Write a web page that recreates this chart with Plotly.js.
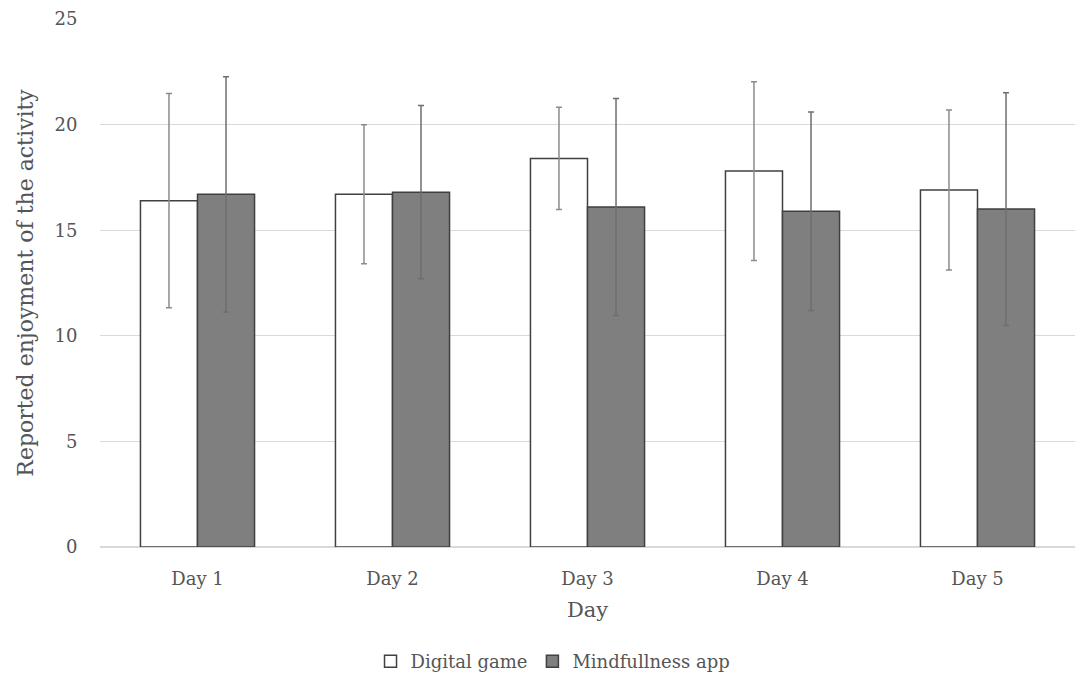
<!DOCTYPE html>
<html>
<head>
<meta charset="utf-8">
<script src="https://cdn.plot.ly/plotly-3.0.1.min.js"></script>
<style>html,body{margin:0;padding:0;background:#fff;}#chart{width:1078px;height:675px;}</style>
</head>
<body>
<div id="chart"></div>
<script>
var days = ["Day 1", "Day 2", "Day 3", "Day 4", "Day 5"];
var gameMeans = [16.4, 16.7, 18.4, 17.8, 16.9];
var gameSD = [5.07, 3.29, 2.42, 4.23, 3.79];
var appMeans = [16.7, 16.8, 16.1, 15.9, 16.0];
var appSD = [5.57, 4.1, 5.14, 4.7, 5.51];

var font = "DejaVu Serif, serif";
var txt = "#555555";

var traces = [
  {
    type: "bar", name: "Digital game", x: days, y: gameMeans,
    marker: {color: "#ffffff", line: {color: "#404040", width: 1.5}},
    error_y: {type: "data", array: gameSD, visible: true, color: "#8c8c8c", thickness: 1.5, width: 3}
  },
  {
    type: "bar", name: "Mindfullness app", x: days, y: appMeans,
    marker: {color: "#7f7f7f", line: {color: "#404040", width: 1.5}},
    error_y: {type: "data", array: appSD, visible: true, color: "#6e6e6e", thickness: 1.5, width: 3}
  }
];

var layout = {
  width: 1078, height: 675,
  margin: {l: 100, r: 3, t: 19, b: 128},
  paper_bgcolor: "#ffffff", plot_bgcolor: "#ffffff",
  font: {family: font, size: 18, color: txt},
  barmode: "group", bargap: 0.415, bargroupgap: 0,
  showlegend: true,
  legend: {
    orientation: "h", xref: "container", yref: "container",
    x: 0.513, xanchor: "center", y: 0.02, yanchor: "middle",
    font: {family: font, size: 18, color: txt}, traceorder: "normal",
    itemwidth: 30
  },
  xaxis: {
    type: "category",
    showgrid: false, showline: false, zeroline: false,
    ticks: "outside", ticklen: 15, tickcolor: "rgba(0,0,0,0)",
    tickfont: {family: font, size: 18, color: txt},
    title: {text: "Day", font: {family: font, size: 21, color: txt}, standoff: 14}
  },
  yaxis: {
    range: [0, 25], tickvals: [0, 5, 10, 15, 20, 25],
    showgrid: true, gridcolor: "#d9d9d9", gridwidth: 1,
    zeroline: true, zerolinecolor: "#d9d9d9", zerolinewidth: 1.5,
    showline: false,
    ticks: "outside", ticklen: 18, tickcolor: "rgba(0,0,0,0)",
    tickfont: {family: font, size: 18, color: txt},
    title: {text: "Reported enjoyment of the activity", font: {family: font, size: 22, color: txt}, standoff: 14}
  }
};

Plotly.newPlot("chart", traces, layout, {displayModeBar: false, staticPlot: true});
</script>
</body>
</html>
